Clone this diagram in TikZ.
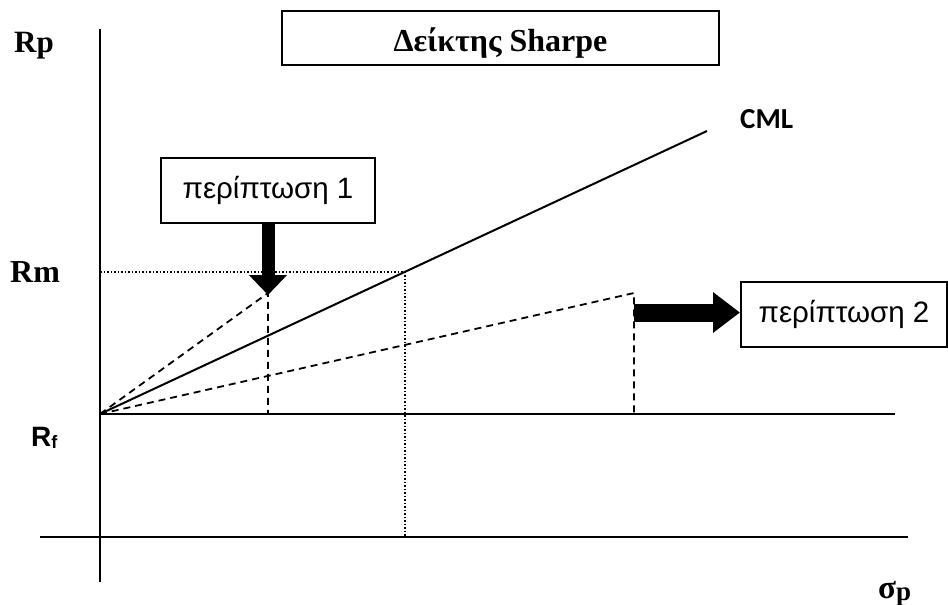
\documentclass[tikz,border=0pt]{standalone}
\usepackage{fontspec}
\newfontfamily\tnr{Liberation Serif}
\newfontfamily\arial{Liberation Sans}
\newfontfamily\calibri{Carlito}
\usetikzlibrary{arrows.meta}
\tikzset{
axis/.style={line width=2pt},
guide/.style={line width=1.8pt, dash pattern=on 7pt off 5pt},
grid/.style={line width=1.5pt, dash pattern=on 1.5pt off 2pt},
casebox/.style={draw, line width=2pt, inner sep=0pt, font=\arial\fontsize{29.5}{34}\selectfont},
lbl/.style={anchor=base west, inner sep=0pt}
}

\begin{document}
\begin{tikzpicture}[x=1pt, y=-1pt]
	\useasboundingbox (0,0) rectangle (948,605);
	\coordinate (ytop) at (100,29);
	\coordinate (ybot) at (100,582);
	\coordinate (xl) at (40,537);
	\coordinate (xr) at (908,537);
	\coordinate (O) at (100,414);
	\coordinate (rfend) at (895,414);
	\coordinate (cmlend) at (707,131);
	\coordinate (M) at (405,272);
	\coordinate (p1) at (268,293);
	\coordinate (p2) at (634,293);
	\node[draw, line width=2pt, minimum width=437pt, minimum height=54pt, inner sep=0pt,
		text height=27pt, text depth=0pt,
		font=\tnr\bfseries\fontsize{32}{36}\selectfont] (title) at (500.5,38) {Δείκτης Sharpe};
	\node[casebox, minimum width=214pt, minimum height=65pt] (case1) at (268,190.5) {περίπτωση 1};
	\node[casebox, minimum width=206pt, minimum height=65pt] (case2) at (844,314.5) {περίπτωση 2};
	\node[lbl, font=\tnr\bfseries\fontsize{31}{35}\selectfont] (rp) at (14,52) {Rp};
	\node[lbl, font=\tnr\bfseries\fontsize{32}{36}\selectfont] (rm) at (10,282) {Rm};
	\node[lbl, font=\arial\bfseries\fontsize{28}{32}\selectfont] (rf) at (31,446)
		{R\raisebox{-2pt}{\fontsize{18}{20}\selectfont f}};
	\node[lbl, font=\tnr\bfseries\fontsize{33}{37}\selectfont] (sp) at (878,598)
		{σ\raisebox{-2pt}{\fontsize{27}{30}\selectfont p}};
	\node[lbl, font=\calibri\bfseries\fontsize{29}{33}\selectfont] (cml) at (740,128) {CML};
	\draw[axis] (ytop) -- (ybot);
	\draw[axis] (xl) -- (xr);
	\draw[axis] (O) -- (rfend);
	\draw[axis] (O) -- (cmlend);
	\draw[grid] (O |- M) -- (M) -- (M |- xl);
	\draw[guide] (O) -- (p1) -- (p1 |- O);
	\draw[guide] (O) -- (p2) -- (p2 |- O);
	\draw[line width=13pt, -{Triangle[length=20pt, width=37pt]}] (case1.south) -- (p1 |- 0,295);
	\coordinate (a2) at (634,312.5);
	\draw[line width=18pt, -{Triangle[length=27pt, width=39pt]}] (a2) -- (a2 -| case2.west);
\end{tikzpicture}
\end{document}
